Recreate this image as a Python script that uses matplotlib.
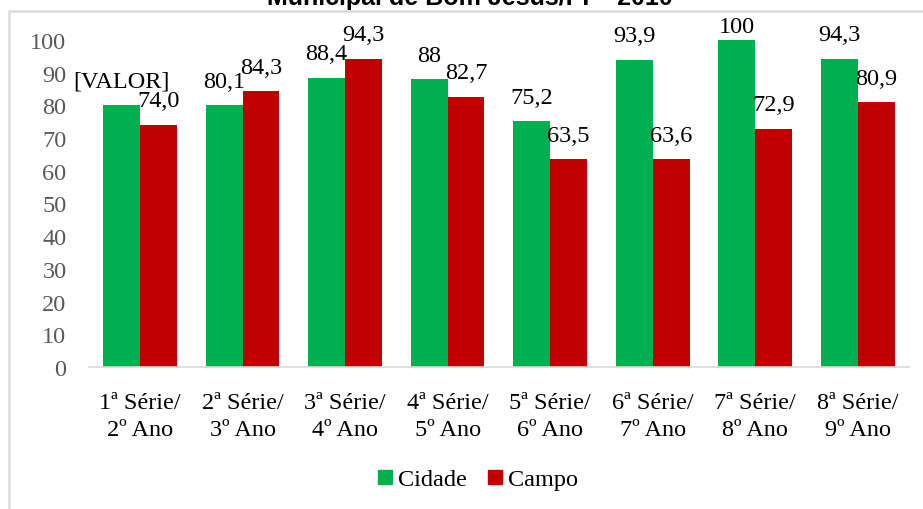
import matplotlib
matplotlib.use("Agg")
from matplotlib import pyplot as plt
from matplotlib.patches import Rectangle, Patch
import numpy as np

# dados
categorias = ["1ª Série/\n2º Ano", "2ª Série/\n3º Ano", "3ª Série/\n4º Ano", "4ª Série/\n5º Ano",
              "5ª Série/\n6º Ano", "6ª Série/\n7º Ano", "7ª Série/\n8º Ano", "8ª Série/\n9º Ano"]
cidade = [80, 80.1, 88.4, 88, 75.2, 93.9, 100, 94.3]
campo = [74.0, 84.3, 94.3, 82.7, 63.5, 63.6, 72.9, 80.9]
rotulos_cidade = ["[VALOR]", "80,1", "88,4", "88", "75,2", "93,9", "100", "94,3"]
rotulos_campo = ["74,0", "84,3", "94,3", "82,7", "63,5", "63,6", "72,9", "80,9"]
titulo = "Municipal de Bom Jesus/PI – 2010"

plt.rcParams["font.family"] = ["Liberation Serif", "DejaVu Serif"]
fs = 17.5

fig = plt.figure(figsize=(9.23, 5.10), dpi=100)

# moldura do grafico (cortada a direita e embaixo)
fig.patches.append(Rectangle((9 / 923, -0.1), 1.2, 1 - 12 / 510 + 0.1, transform=fig.transFigure,
                             facecolor="none", edgecolor="#d9d9d9", linewidth=1.8))

fig.text(470 / 923, 1 - 5 / 510, titulo, ha="center", va="baseline",
         fontsize=18, fontweight="bold", family="Liberation Sans")

ax = fig.add_axes([88.7 / 923, 1 - 368 / 510, (909 - 88.7) / 923, (368 - 41) / 510])

x = np.arange(len(categorias))
w = 0.36
verde = "#00B050"
vermelho = "#C00000"
b1 = ax.bar(x - w / 2, cidade, w, color=verde, label="Cidade")
b2 = ax.bar(x + w / 2, campo, w, color=vermelho, label="Campo")

for barras, rotulos in ((b1, rotulos_cidade), (b2, rotulos_campo)):
    for b, r in zip(barras, rotulos):
        off = 9.4 if b.get_height() >= 99 else 17.3
        ax.annotate(r, (b.get_x() + b.get_width() / 2, b.get_height()),
                    xytext=(0, off), textcoords="offset points",
                    ha="center", va="center", fontsize=fs, color="black",
                    annotation_clip=False)

ax.set_xlim(-0.5, len(categorias) - 0.5)
ax.set_ylim(0, 100)
ax.set_yticks(range(0, 101, 10))
ax.set_xticks(x)
ax.set_xticklabels(categorias, fontsize=fs, linespacing=1.38)
ax.tick_params(axis="y", length=0, pad=16, labelsize=fs, labelcolor="#595959")
ax.tick_params(axis="x", length=0, pad=18)

for s in ("top", "right", "left"):
    ax.spines[s].set_visible(False)
ax.spines["bottom"].set_color("#d9d9d9")
ax.spines["bottom"].set_linewidth(1.2)

handles = [Patch(color=verde, label="Cidade"), Patch(color=vermelho, label="Campo")]
fig.legend(handles=handles, loc="center", bbox_to_anchor=(478 / 923, 1 - 481 / 510), ncol=2,
           frameon=False, fontsize=fs, handlelength=0.55, handleheight=0.55,
           handletextpad=0.25, columnspacing=0.9)

fig.savefig("out.png", dpi=100)
